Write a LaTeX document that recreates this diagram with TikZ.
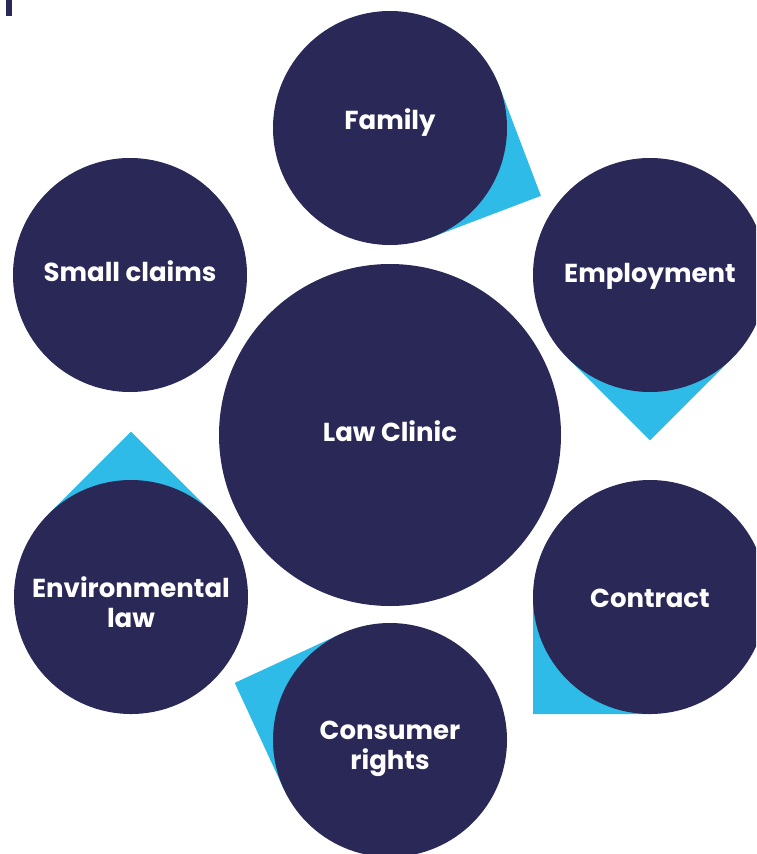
\documentclass[tikz,border=0pt]{standalone}
\usepackage{fontspec}
\setmainfont{Poppins}
\usetikzlibrary{calc}
\definecolor{navy}{RGB}{41,40,87}
\definecolor{sky}{RGB}{46,187,232}
\newcommand{\oneline}[2]{\raisebox{#1}[0pt][0pt]{#2}}
\newcommand{\twolines}[3]{\raisebox{#1}[0pt][0pt]{\parbox[t]{230pt}{\centering #2\\#3}}}
\begin{document}
\begin{tikzpicture}[x=1pt,y=-1pt,
  bubble/.style={circle, fill=navy, minimum size=234pt, inner sep=0pt, text=white,
    font=\fontsize{26}{30}\selectfont\bfseries},
  hub/.style={bubble, minimum size=342pt}]
\useasboundingbox (0,0) rectangle (756,854);
\clip (0,0) rectangle (756,854);
% centres
\coordinate (cF) at (390,128);
\coordinate (cE) at (650,275);
\coordinate (cS) at (130,275);
\coordinate (cL) at (390,435);
\coordinate (cV) at (131,597);
\coordinate (cC) at (650,597);
\coordinate (cR) at (390,740);
% cyan corners
\foreach \c/\a in {cF/24.2, cE/90, cV/270, cC/135, cR/200.2}{
  \fill[sky] (\c) -- ($(\c)+(\a-45:117)$) -- ($(\c)+(\a:165.46)$) -- ($(\c)+(\a+45:117)$) -- cycle;
}
% bar top-left
\fill[navy] (6,0) rectangle (12,16);
% circles
\node[bubble] (family) at (cF) {\oneline{-1.5pt}{Family}};
\node[bubble] (employment) at (cE) {\oneline{-7pt}{Employment}};
\node[bubble] (small) at (cS) {\oneline{-6pt}{Small claims}};
\node[hub] (clinic) at (cL) {\oneline{-6pt}{Law Clinic}};
\node[bubble] (env) at (cV) {\twolines{0pt}{Environmental}{law}};
\node[bubble] (contract) at (cC) {\oneline{-10pt}{Contract}};
\node[bubble] (consumer) at (cR) {\twolines{1pt}{Consumer}{rights}};
\end{tikzpicture}
\end{document}
